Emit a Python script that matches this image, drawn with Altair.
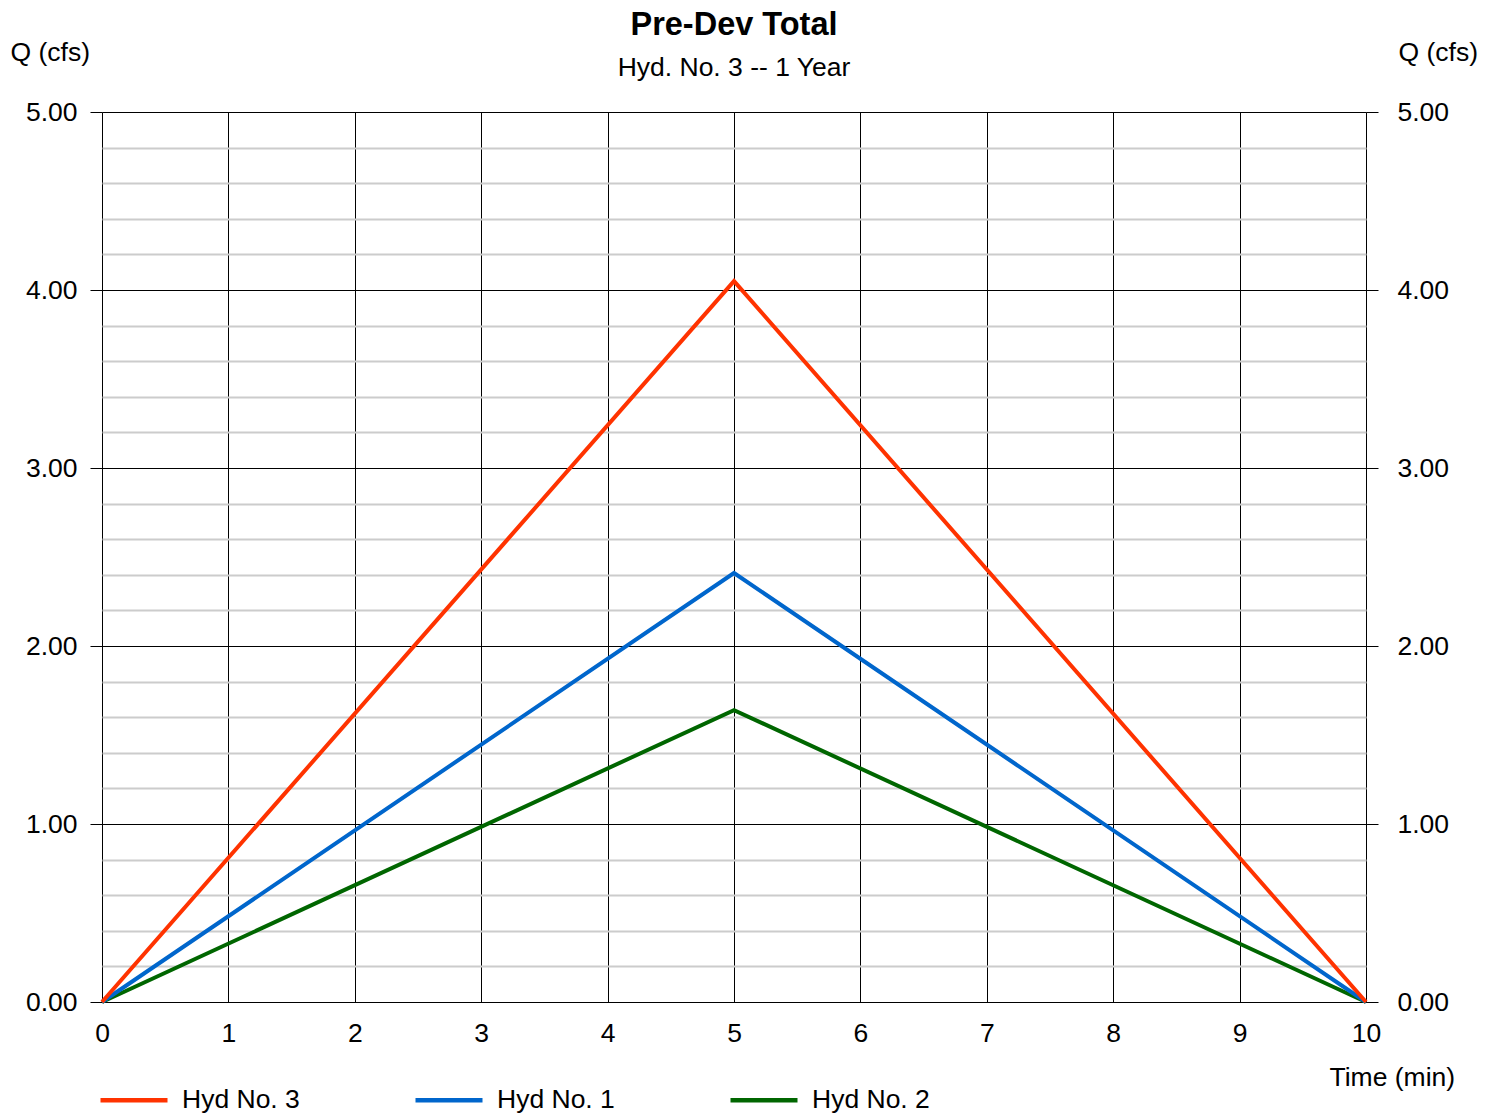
import altair as alt
import pandas as pd

series_names = ["Hyd No. 2", "Hyd No. 1", "Hyd No. 3"]
times = [0, 5, 10]
hyd2 = [0.0, 1.64, 0.0]
hyd1 = [0.0, 2.41, 0.0]
hyd3 = [0.0, 4.05, 0.0]
legend_order = ["Hyd No. 3", "Hyd No. 1", "Hyd No. 2"]
colors = ["#FF3300", "#0066CC", "#006600"]
x_ticks = list(range(0, 11))
y_ticks = [round(i * 0.2, 1) for i in range(0, 26)]

rows = []
for name, vals in zip(series_names, [hyd2, hyd1, hyd3]):
    for t, v in zip(times, vals):
        rows.append({"series": name, "time": t, "q": v})
df = pd.DataFrame(rows)

FONT = "Liberation Sans"
FS = 26.5
is_major = "abs(datum.value - round(datum.value)) < 0.001"

x_axis = alt.Axis(
    values=x_ticks, grid=True, gridColor="black", gridWidth=1, gridOpacity=1,
    domain=True, domainColor="black", domainWidth=1,
    ticks=False, tickSize=0, labelPadding=18, labelFontSize=FS, labelFont=FONT,
    labelColor="black", labelFlush=False,
    title="Time (min)", titleFont=FONT, titleFontSize=FS, titleFontWeight="normal",
    titleColor="black", titleAlign="left", titleBaseline="middle",
    titleX=1227, titleY=75,
)
x_enc = alt.X("time:Q", scale=alt.Scale(domain=[0, 10], nice=False), axis=x_axis)
y_scale = alt.Scale(domain=[0, 5], nice=False)

left_axis = alt.Axis(
    orient="left", values=y_ticks,
    grid=True,
    gridColor={"condition": {"test": is_major, "value": "black"}, "value": "#cccccc"},
    gridWidth={"condition": {"test": is_major, "value": 1}, "value": 2},
    gridOpacity=1,
    domain=False,
    ticks=True, tickSize=12, tickColor="black", tickWidth=1,
    tickOpacity={"condition": {"test": is_major, "value": 1}, "value": 0},
    labelExpr=f"{is_major} ? format(datum.value, '.2f') : ''",
    labelPadding=13, labelFontSize=FS, labelFont=FONT, labelColor="black",
    labelFlush=False,
    title="Q (cfs)", titleFont=FONT, titleFontSize=FS, titleFontWeight="normal",
    titleColor="black", titleAngle=0, titleAlign="left", titleBaseline="middle",
    titleX=-92, titleY=-60,
)
right_axis = alt.Axis(
    orient="right", values=y_ticks, grid=False, domain=False,
    ticks=True, tickSize=12, tickColor="black", tickWidth=1,
    tickOpacity={"condition": {"test": is_major, "value": 1}, "value": 0},
    labelExpr=f"{is_major} ? format(datum.value, '.2f') : ''",
    labelPadding=19, labelFontSize=FS, labelFont=FONT, labelColor="black",
    labelFlush=False,
    title="Q (cfs)", titleFont=FONT, titleFontSize=FS, titleFontWeight="normal",
    titleColor="black", titleAngle=0, titleAlign="left", titleBaseline="middle",
    titleX=32, titleY=-60,
)

lines = alt.Chart(df).mark_line(strokeWidth=4).encode(
    x=x_enc,
    y=alt.Y("q:Q", scale=y_scale, axis=left_axis),
    color=alt.Color(
        "series:N",
        scale=alt.Scale(domain=legend_order, range=colors),
        legend=alt.Legend(
            orient="none", legendX=-4, legendY=952, direction="horizontal",
            columns=3, title=None, symbolType="stroke", symbolSize=4489,
            symbolStrokeWidth=4.5, labelFontSize=FS, labelFont=FONT,
            labelColor="black", labelOffset=12, columnPadding=106,
            gridAlign="all", labelLimit=300,
        ),
    ),
    detail="series:N",
)

right = alt.Chart(df).mark_line(opacity=0).encode(
    x=x_enc,
    y=alt.Y("q:Q", scale=y_scale, axis=right_axis),
    detail="series:N",
)

chart = alt.layer(lines, right).resolve_axis(y="independent").properties(
    width=1264, height=890,
    autosize=alt.AutoSizeParams(type="none"),
    padding={"left": 94, "top": 104, "right": 120, "bottom": 113},
    title=alt.TitleParams(
        text="Pre-Dev Total", subtitle="Hyd. No. 3 -- 1 Year",
        fontSize=32.5, fontWeight="bold", font=FONT, color="black",
        subtitleFontSize=FS, subtitleFont=FONT, subtitleColor="black",
        subtitlePadding=13, anchor="middle", offset=-42,
    ),
).configure_view(stroke=None).configure(background="white")

chart.save("out.html", embed_options={"renderer": "svg", "actions": False})
